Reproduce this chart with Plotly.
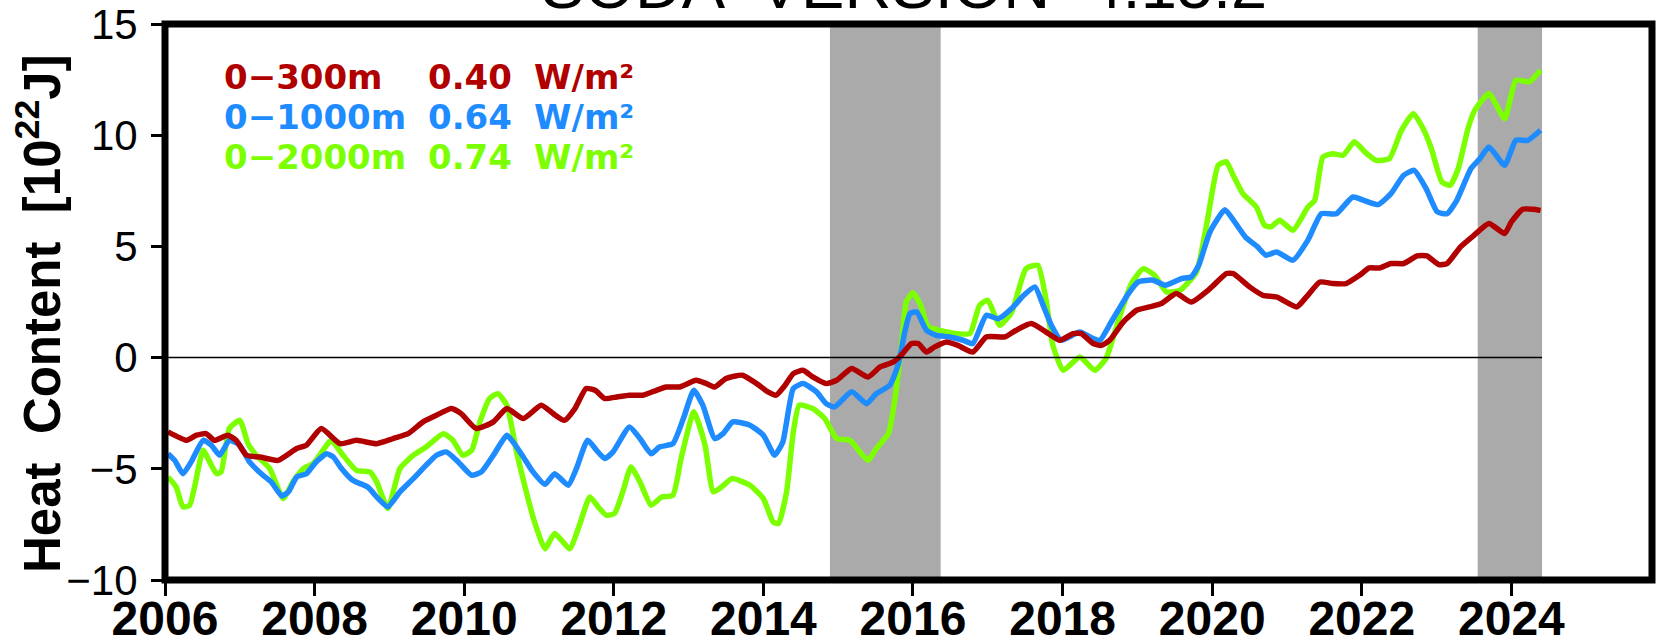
import plotly.graph_objects as go

# ---------------- data ----------------
years_300 = [2006.04, 2006.29, 2006.42, 2006.55, 2006.66, 2006.84, 2006.95, 2007.09, 2007.27, 2007.51,
             2007.76, 2007.89, 2008.09, 2008.34, 2008.56, 2008.83, 2009.05, 2009.25, 2009.45, 2009.63,
             2009.83, 2009.96, 2010.16, 2010.39, 2010.57, 2010.79, 2011.03, 2011.19, 2011.34, 2011.48,
             2011.63, 2011.75, 2011.88, 2012.04, 2012.21, 2012.39, 2012.57, 2012.70, 2012.88, 2013.10,
             2013.24, 2013.35, 2013.50, 2013.72, 2013.91, 2014.06, 2014.17, 2014.29, 2014.40, 2014.53,
             2014.66, 2014.84, 2014.98, 2015.18, 2015.40, 2015.56, 2015.74, 2015.84, 2015.98, 2016.07,
             2016.18, 2016.29, 2016.45, 2016.60, 2016.80, 2016.98, 2017.23, 2017.38, 2017.58, 2017.78,
             2017.96, 2018.14, 2018.25, 2018.41, 2018.52, 2018.63, 2018.81, 2018.99, 2019.16, 2019.32,
             2019.52, 2019.72, 2019.97, 2020.19, 2020.28, 2020.50, 2020.68, 2020.86, 2021.13, 2021.26,
             2021.44, 2021.61, 2021.79, 2021.97, 2022.10, 2022.24, 2022.39, 2022.56, 2022.74, 2022.87,
             2023.03, 2023.14, 2023.32, 2023.50, 2023.70, 2023.91, 2024.00, 2024.15, 2024.29, 2024.39]
ohc_300 = [-3.34, -3.72, -3.49, -3.42, -3.72, -3.49, -3.72, -4.39, -4.47, -4.62,
           -4.09, -3.94, -3.19, -3.87, -3.72, -3.87, -3.64, -3.42, -2.89, -2.59,
           -2.29, -2.52, -3.19, -2.89, -2.29, -2.74, -2.14, -2.52, -2.82, -2.29,
           -1.39, -1.47, -1.84, -1.77, -1.69, -1.69, -1.47, -1.32, -1.32, -1.02,
           -1.17, -1.32, -0.94, -0.79, -1.17, -1.54, -1.69, -1.24, -0.72, -0.57,
           -0.87, -1.17, -1.02, -0.49, -0.87, -0.42, -0.19, 0.10, 0.63, 0.63,
           0.25, 0.48, 0.70, 0.55, 0.25, 0.93, 0.93, 1.23, 1.53, 1.15,
           0.78, 1.08, 1.08, 0.63, 0.55, 0.78, 1.60, 2.13, 2.28, 2.43,
           2.88, 2.50, 3.10, 3.78, 3.78, 3.18, 2.80, 2.73, 2.28, 2.73,
           3.40, 3.33, 3.33, 3.70, 4.03, 4.03, 4.23, 4.23, 4.57, 4.57,
           4.18, 4.23, 4.98, 5.50, 6.03, 5.58, 6.10, 6.67, 6.67, 6.62]

years_1000 = [2006.04, 2006.13, 2006.24, 2006.35, 2006.51, 2006.62, 2006.73, 2006.86, 2007.00, 2007.13,
              2007.31, 2007.42, 2007.56, 2007.65, 2007.76, 2007.89, 2008.02, 2008.16, 2008.25, 2008.36,
              2008.51, 2008.71, 2008.85, 2008.98, 2009.14, 2009.32, 2009.49, 2009.63, 2009.76, 2009.92,
              2010.10, 2010.23, 2010.39, 2010.57, 2010.67, 2010.79, 2010.92, 2011.08, 2011.21, 2011.39,
              2011.50, 2011.65, 2011.77, 2011.88, 2011.99, 2012.21, 2012.35, 2012.50, 2012.61, 2012.79,
              2012.93, 2013.07, 2013.19, 2013.35, 2013.46, 2013.59, 2013.82, 2014.00, 2014.15, 2014.26,
              2014.40, 2014.53, 2014.71, 2014.84, 2014.95, 2015.18, 2015.38, 2015.51, 2015.69, 2015.80,
              2015.89, 2015.96, 2016.05, 2016.18, 2016.31, 2016.49, 2016.67, 2016.80, 2016.98, 2017.14,
              2017.34, 2017.48, 2017.63, 2017.74, 2017.85, 2017.98, 2018.23, 2018.41, 2018.50, 2018.65,
              2018.88, 2019.01, 2019.21, 2019.37, 2019.59, 2019.72, 2019.82, 2019.97, 2020.17, 2020.30,
              2020.45, 2020.60, 2020.72, 2020.86, 2021.08, 2021.28, 2021.46, 2021.66, 2021.88, 2022.06,
              2022.22, 2022.39, 2022.56, 2022.70, 2022.86, 2023.01, 2023.14, 2023.27, 2023.46, 2023.58,
              2023.70, 2023.91, 2024.06, 2024.22, 2024.39]
ohc_1000 = [-4.32, -4.62, -5.22, -4.69, -3.72, -3.94, -4.39, -3.72, -3.94, -4.69,
            -5.29, -5.59, -6.22, -6.04, -5.37, -5.22, -4.69, -4.32, -4.47, -4.99,
            -5.52, -5.82, -6.34, -6.71, -6.04, -5.44, -4.84, -4.39, -4.24, -4.69,
            -5.29, -5.14, -4.39, -3.49, -3.87, -4.47, -5.14, -5.70, -5.22, -5.74,
            -4.99, -3.72, -4.17, -4.54, -4.24, -3.12, -3.64, -4.32, -4.02, -3.87,
            -2.74, -1.47, -2.14, -3.64, -3.42, -2.89, -3.04, -3.49, -4.39, -3.79,
            -1.39, -1.17, -1.54, -2.07, -2.22, -1.54, -2.07, -1.62, -1.24, -0.34,
            1.15, 1.98, 2.05, 1.23, 1.00, 0.93, 0.78, 0.63, 1.90, 1.75,
            2.28, 2.80, 3.18, 2.35, 1.45, 0.78, 1.15, 0.85, 0.78, 1.60,
            2.88, 3.40, 3.48, 3.25, 3.55, 3.63, 4.15, 5.65, 6.65, 6.10,
            5.40, 5.00, 4.60, 4.75, 4.38, 5.28, 6.47, 6.47, 7.22, 7.03,
            6.88, 7.37, 8.20, 8.42, 7.60, 6.55, 6.47, 7.07, 8.50, 8.95,
            9.47, 8.65, 9.77, 9.77, 10.22]

years_2000 = [2006.04, 2006.15, 2006.24, 2006.33, 2006.40, 2006.51, 2006.62, 2006.69, 2006.75, 2006.86,
              2007.00, 2007.11, 2007.22, 2007.40, 2007.58, 2007.71, 2007.85, 2007.98, 2008.16, 2008.22,
              2008.38, 2008.56, 2008.74, 2008.83, 2008.98, 2009.14, 2009.32, 2009.49, 2009.72, 2009.85,
              2009.98, 2010.10, 2010.21, 2010.34, 2010.45, 2010.57, 2010.70, 2010.83, 2010.94, 2011.08,
              2011.21, 2011.41, 2011.54, 2011.68, 2011.79, 2011.90, 2012.01, 2012.12, 2012.23, 2012.35,
              2012.50, 2012.64, 2012.79, 2012.90, 2013.07, 2013.22, 2013.33, 2013.44, 2013.58, 2013.82,
              2014.00, 2014.13, 2014.20, 2014.31, 2014.40, 2014.48, 2014.66, 2014.82, 2014.98, 2015.16,
              2015.29, 2015.40, 2015.51, 2015.67, 2015.76, 2015.85, 2015.91, 2016.00, 2016.11, 2016.20,
              2016.45, 2016.58, 2016.76, 2016.89, 2017.00, 2017.16, 2017.32, 2017.51, 2017.67, 2017.78,
              2017.87, 2018.01, 2018.23, 2018.43, 2018.58, 2018.74, 2018.92, 2019.08, 2019.23, 2019.39,
              2019.57, 2019.79, 2019.94, 2020.08, 2020.19, 2020.28, 2020.41, 2020.59, 2020.70, 2020.79,
              2020.90, 2021.08, 2021.28, 2021.37, 2021.48, 2021.61, 2021.75, 2021.90, 2022.04, 2022.19,
              2022.37, 2022.53, 2022.69, 2022.82, 2022.93, 2023.07, 2023.18, 2023.29, 2023.42, 2023.51,
              2023.70, 2023.91, 2024.06, 2024.24, 2024.39]
ohc_2000 = [-5.37, -5.82, -6.71, -6.64, -5.74, -4.17, -4.84, -5.22, -5.14, -3.19,
            -2.82, -3.87, -4.39, -4.99, -6.34, -5.59, -4.99, -4.77, -3.94, -3.72,
            -4.39, -5.07, -5.14, -5.59, -6.79, -4.99, -4.39, -4.02, -3.42, -3.72,
            -4.39, -4.17, -2.89, -1.84, -1.62, -2.14, -4.24, -6.04, -7.39, -8.59,
            -7.91, -8.59, -7.54, -6.27, -6.71, -7.09, -7.01, -6.04, -4.92, -5.59,
            -6.64, -6.27, -6.19, -4.54, -2.44, -3.94, -6.04, -5.82, -5.44, -5.74,
            -6.34, -7.39, -7.46, -6.04, -3.34, -2.14, -2.29, -2.74, -3.64, -3.72,
            -4.24, -4.62, -4.09, -3.42, -1.84, 0.70, 2.50, 2.92, 2.30, 1.40,
            1.15, 1.08, 1.08, 2.35, 2.58, 1.45, 2.05, 4.00, 4.15, 2.58,
            0.55, -0.57, 0.03, -0.57, -0.04, 1.60, 3.33, 4.00, 3.70, 2.95,
            3.03, 3.85, 6.25, 8.65, 8.80, 8.20, 7.37, 6.77, 5.95, 5.88,
            6.18, 5.73, 6.77, 7.07, 9.02, 9.17, 9.10, 9.70, 9.25, 8.87,
            8.95, 10.22, 10.97, 10.30, 9.40, 7.90, 7.75, 8.50, 10.30, 11.12,
            11.87, 10.75, 12.47, 12.40, 12.92]

layer_labels = ["0\u2212300m", "0\u22121000m", "0\u22122000m"]
trend_values = ["0.40", "0.64", "0.74"]
trend_unit = "W/m\u00b2"

elnino_start = [2014.89, 2023.55]
elnino_end = [2016.37, 2024.41]
zero_line_end = 2024.41

x_ticks = [2006, 2008, 2010, 2012, 2014, 2016, 2018, 2020, 2022, 2024]
y_ticks = [-10, -5, 0, 5, 10, 15]

title_text = "SODA  VERSION  4.15.2"
y_title = "Heat  Content  [10<sup>22</sup>J]"

# ---------------- styles ----------------
RED, BLUE, GREEN = "#B00000", "#1E8CFF", "#7CFF00"
colors = [RED, BLUE, GREEN]
W, H = 1662, 640
L, R, T, B = 165, 10, 24, 60
PW, PH = W - L - R, H - T - B


def px_x(px):
    return (px - L) / PW


def px_y(py):
    return (H - B - py) / PH


fig = go.Figure()
# draw order: deepest layer first, 0-300m on top
for yrs, vals, col in [(years_2000, ohc_2000, GREEN), (years_1000, ohc_1000, BLUE), (years_300, ohc_300, RED)]:
    fig.add_trace(go.Scatter(x=yrs, y=vals, mode="lines",
                             line=dict(color=col, width=5.5, shape="spline", smoothing=0.5),
                             showlegend=False, hoverinfo="skip"))

shapes = []
for s, e in zip(elnino_start, elnino_end):
    shapes.append(dict(type="rect", xref="x", yref="paper", x0=s, x1=e, y0=0, y1=1,
                       fillcolor="#AAAAAA", line=dict(width=0), layer="below"))
shapes.append(dict(type="line", xref="x", yref="y", x0=x_ticks[0], x1=zero_line_end, y0=0, y1=0,
                   line=dict(color="black", width=1.5), layer="above"))
shapes.append(dict(type="rect", xref="paper", yref="paper", x0=0, x1=1, y0=0, y1=1,
                   line=dict(color="black", width=7), fillcolor="rgba(0,0,0,0)", layer="above"))

annotations = []
row_y = [77, 117, 157]
col_x = [222, 426, 532]
for i in range(3):
    for cx, txt in zip(col_x, [layer_labels[i], trend_values[i], trend_unit]):
        annotations.append(dict(xref="paper", yref="paper", x=px_x(cx), y=px_y(row_y[i]),
                                text=txt, showarrow=False, xanchor="left", yanchor="middle",
                                font=dict(family="DejaVu Sans", size=34, color=colors[i], weight="bold")))

annotations.append(dict(xref="paper", yref="paper", x=px_x(39), y=px_y(314), text=y_title,
                        textangle=-90, showarrow=False, xanchor="center", yanchor="middle",
                        font=dict(family="Liberation Sans", size=51, color="black", weight="bold")))
annotations.append(dict(xref="paper", yref="paper", x=px_x(904), y=px_y(24), text=title_text,
                        showarrow=False, xanchor="center", yanchor="bottom",
                        font=dict(family="Liberation Sans", size=65, color="black")))

fig.update_layout(
    width=W, height=H, margin=dict(l=L, r=R, t=T, b=B, autoexpand=False),
    paper_bgcolor="white", plot_bgcolor="white",
    shapes=shapes, annotations=annotations, showlegend=False,
    xaxis=dict(range=[2006, 2025.88], tickvals=x_ticks, ticktext=[str(v) for v in x_ticks],
               ticks="outside", ticklen=15, tickwidth=2.5, tickcolor="black", automargin=False,
               ticklabelstandoff=-19,
               showgrid=False, zeroline=False, showline=False,
               tickfont=dict(family="Liberation Sans Narrow, Liberation Sans", size=48, color="black",
                             weight="bold")),
    yaxis=dict(range=[-10, 15], tickvals=y_ticks, automargin=False,
               ticks="outside", ticklen=13, tickwidth=2.5, tickcolor="black",
               ticklabelstandoff=5,
               showgrid=False, zeroline=False, showline=False,
               tickfont=dict(family="Liberation Sans Narrow, Liberation Sans", size=42, color="black")),
)

fig.write_html("out.html", config={"displayModeBar": False},
               post_script="document.body.style.margin='0';document.body.style.overflow='hidden';")
